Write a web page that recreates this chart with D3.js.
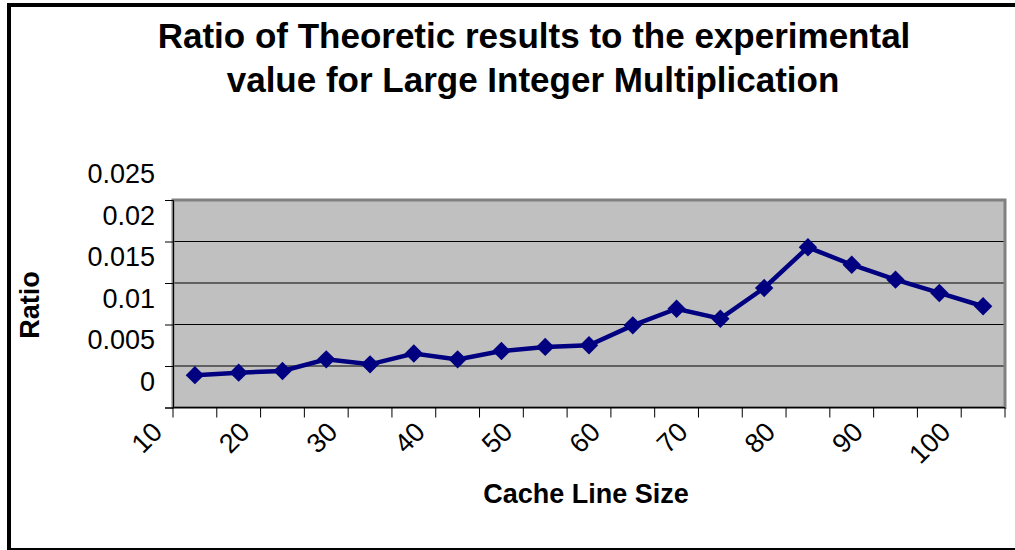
<!DOCTYPE html>
<html>
<head>
<meta charset="utf-8">
<script src="https://cdn.jsdelivr.net/npm/d3@7"></script>
<style>
  body { margin: 0; background: #fff; }
  svg text { font-family: "Liberation Sans", Arial, sans-serif; fill: #000; }
  .ttitle { font-size: 35px; font-weight: bold; }
  .label { font-size: 27px; font-weight: bold; }
  .tick-label { font-size: 27px; }
</style>
</head>
<body>
<svg></svg>
<script>
'use strict';
// data
var categories = [10, 15, 20, 25, 30, 35, 40, 45, 50, 55, 60, 65, 70, 75, 80, 85, 90, 95, 100];
var ratio = [0.0039, 0.0042, 0.0044, 0.0058, 0.0052, 0.0065, 0.0058, 0.0068, 0.0073, 0.0075,
             0.0099, 0.0119, 0.0107, 0.0144, 0.0193, 0.0172, 0.0154, 0.0138, 0.0122];
var xTickLabels = [10, 20, 30, 40, 50, 60, 70, 80, 90, 100];
var yTickValues = [0, 0.005, 0.01, 0.015, 0.02, 0.025];

var canvasWidth = 1015;
var canvasHeight = 550;
var margin = { top: 200, right: 10, bottom: 142.5, left: 173 };
var width = canvasWidth - margin.left - margin.right;
var height = canvasHeight - margin.top - margin.bottom;

var svg = d3.select('svg')
  .attr('width', canvasWidth)
  .attr('height', canvasHeight);

// outer frame (right edge runs off the picture)
svg.append('rect')
  .attr('x', 9)
  .attr('y', 5)
  .attr('width', 1040)
  .attr('height', 545)
  .attr('fill', 'none')
  .attr('stroke', '#000')
  .attr('stroke-width', 4);

// title
svg.append('text')
  .attr('class', 'ttitle')
  .attr('x', 534)
  .attr('y', 48)
  .attr('text-anchor', 'middle')
  .text('Ratio of Theoretic results to the experimental');
svg.append('text')
  .attr('class', 'ttitle')
  .attr('x', 533)
  .attr('y', 92)
  .attr('text-anchor', 'middle')
  .text('value for Large Integer Multiplication');

var xScale = d3.scaleBand().domain(categories).range([0, width]);
var yScale = d3.scaleLinear().domain([0, 0.025]).range([height, 0]);

var graphArea = svg.append('g')
  .attr('transform', 'translate(' + margin.left + ',' + margin.top + ')');

// grey plot area
graphArea.append('rect')
  .attr('width', width)
  .attr('height', height)
  .attr('fill', '#c0c0c0');

// gridlines
graphArea.selectAll('.grid')
  .data(yTickValues.slice(1, -1))
  .enter().append('line')
  .attr('class', 'grid')
  .attr('x1', 0)
  .attr('x2', width)
  .attr('y1', function(d) { return yScale(d); })
  .attr('y2', function(d) { return yScale(d); })
  .attr('stroke', '#000')
  .attr('stroke-width', 1);

graphArea.append('rect')
  .attr('width', width)
  .attr('height', height)
  .attr('fill', 'none')
  .attr('stroke', '#808080')
  .attr('stroke-width', 3);

// y axis: ticks on the gridlines, labels sit a bit higher (as in the original)
var yAxis = graphArea.append('g')
  .attr('class', 'y axis')
  .call(d3.axisLeft(yScale).tickValues(yTickValues).tickSize(8).tickFormat(''));
yAxis.select('.domain').attr('stroke', '#000');
graphArea.selectAll('.ylab')
  .data(yTickValues)
  .enter().append('text')
  .attr('class', 'tick-label')
  .attr('x', -18)
  .attr('y', function(d) { return yScale(d) - 17; })
  .attr('text-anchor', 'end')
  .text(function(d) { return d; });

// x axis: ticks between categories
var xBounds = categories.map(function(d) { return xScale(d); }).concat([width]);
graphArea.append('line')
  .attr('x1', 0)
  .attr('x2', width)
  .attr('y1', height)
  .attr('y2', height)
  .attr('stroke', '#000');
graphArea.selectAll('.xtick')
  .data(xBounds)
  .enter().append('line')
  .attr('class', 'xtick')
  .attr('x1', function(d) { return d; })
  .attr('x2', function(d) { return d; })
  .attr('y1', height)
  .attr('y2', height + 10)
  .attr('stroke', '#000');

graphArea.selectAll('.xlab')
  .data(xTickLabels)
  .enter().append('text')
  .attr('class', 'tick-label')
  .attr('text-anchor', 'end')
  .attr('transform', function(d) {
    var x = xScale(d) + xScale.bandwidth() / 2 - 31;
    return 'translate(' + x + ',' + (height + 26) + ') rotate(-45)';
  })
  .text(function(d) { return d; });

// axis labels
svg.append('text')
  .attr('class', 'label')
  .attr('x', 586)
  .attr('y', 503)
  .attr('text-anchor', 'middle')
  .text('Cache Line Size');
svg.append('text')
  .attr('class', 'label')
  .attr('transform', 'translate(39,305) rotate(-90)')
  .attr('text-anchor', 'middle')
  .text('Ratio');

// the series
var line = d3.line()
  .x(function(d, i) { return xScale(categories[i]) + xScale.bandwidth() / 2; })
  .y(function(d) { return yScale(d); });

graphArea.append('path')
  .datum(ratio)
  .attr('d', line)
  .attr('fill', 'none')
  .attr('stroke', '#000080')
  .attr('stroke-width', 4.5);

graphArea.selectAll('.dot')
  .data(ratio)
  .enter().append('path')
  .attr('class', 'dot')
  .attr('d', d3.symbol().type(d3.symbolSquare).size(169))
  .attr('transform', function(d, i) {
    var x = xScale(categories[i]) + xScale.bandwidth() / 2;
    return 'translate(' + x + ',' + yScale(d) + ') rotate(45)';
  })
  .attr('fill', '#000080');
</script>
</body>
</html>
